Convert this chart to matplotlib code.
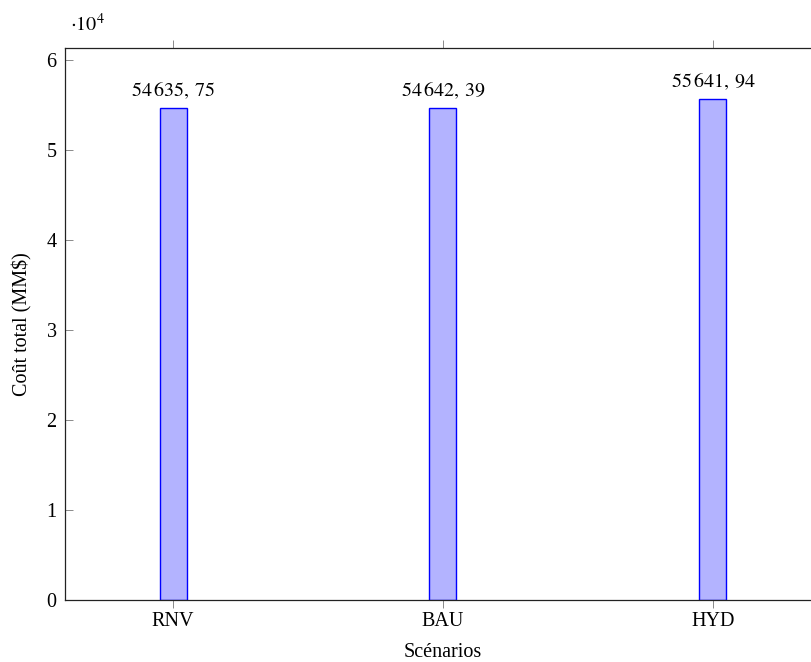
import matplotlib
matplotlib.use("Agg")
from matplotlib import pyplot as plt

scenarios = ["RNV", "BAU", "HYD"]
total_cost = [54635.75, 54642.39, 55641.94]

plt.rcParams["font.family"] = ["Liberation Serif", "DejaVu Serif"]
plt.rcParams["mathtext.fontset"] = "stix"
plt.rcParams["font.size"] = 14.5

fig = plt.figure(figsize=(8.12, 6.62), dpi=100)
# axes run slightly past the right edge of the figure
ax = fig.add_axes([65 / 812, 62 / 662, 756 / 812, 552 / 662])

x = list(range(len(scenarios)))
ax.bar(x, total_cost, width=0.1, color="#b3b3ff", edgecolor="blue", linewidth=1.0)

def fmt(v):
    whole, dec = f"{v:.2f}".split(".")
    whole = f"{int(whole):,}".replace(",", r"\,")
    return rf"${whole},\,{dec}$"

for xi, v in zip(x, total_cost):
    ax.annotate(fmt(v), (xi, v), xytext=(0, 5), textcoords="offset points",
                ha="center", va="bottom")

ax.set_xlim(-0.4, 2.4)
ax.set_ylim(0, 61280)
ax.set_xticks(x)
ax.set_xticklabels(scenarios)
ax.set_yticks([i * 10000 for i in range(7)])
ax.set_yticklabels([str(i) for i in range(7)])

ax.tick_params(axis="x", direction="out", length=6, width=0.6, color="#777777",
               top=True, pad=3)
ax.tick_params(axis="y", direction="in", length=6, width=0.6, color="#777777",
               pad=6)
for s in ax.spines.values():
    s.set_linewidth(0.9)
    s.set_color("#222222")
ax.spines["right"].set_visible(False)

ax.set_xlabel("Scénarios", labelpad=8)
ax.set_ylabel("Coût total (MM$)", labelpad=10)
fig.text(70 / 812, 1 - 25 / 662, r"$\cdot 10^4$", ha="left", va="center")

plt.savefig("out.png", dpi=100)
